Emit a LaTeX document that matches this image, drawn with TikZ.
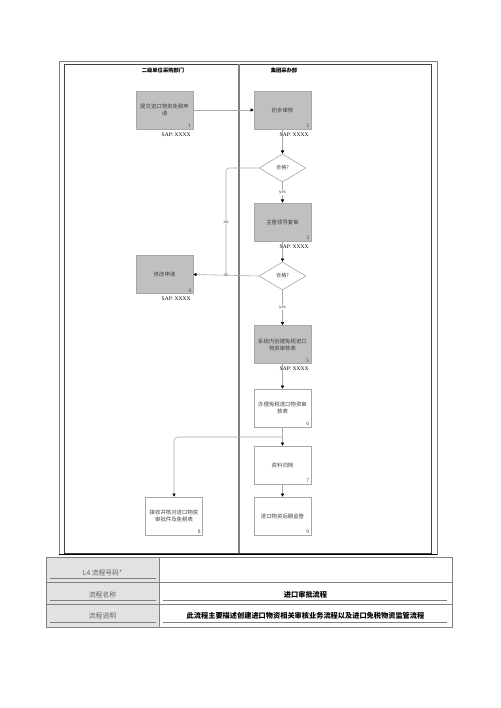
\documentclass[tikz,border=0pt]{standalone}
\usepackage{fontspec}
\setmainfont{Liberation Serif}
\newfontfamily\cjk{Noto Sans CJK SC}
\usetikzlibrary{arrows.meta,shapes.geometric}
\definecolor{boxfill}{HTML}{C0C0C0}
\definecolor{boxline}{HTML}{A6A6A6}
\definecolor{connc}{HTML}{A8A8A8}
\definecolor{darktext}{HTML}{404040}
\definecolor{framegray}{HTML}{808080}
\definecolor{cellfill}{HTML}{E2E2E2}
\definecolor{celltext}{HTML}{606060}
\begin{document}
\begin{tikzpicture}[x=1pt,y=-1pt,
  graybox/.style={draw=boxline,fill=boxfill,line width=0.6pt,minimum width=57pt,minimum height=38pt,inner sep=0pt,align=center,font=\cjk\fontsize{5.4}{7}\selectfont,text=darktext},
  whitebox/.style={graybox,fill=white},
  decision/.style={diamond,draw=boxline,fill=white,line width=0.6pt,minimum width=47pt,minimum height=28pt,inner sep=0pt,aspect=1.68,font=\cjk\fontsize{5.2}{6}\selectfont,text=darktext},
  numlbl/.style={inner sep=0.5pt,font=\fontsize{5.5}{6}\selectfont,text=darktext},
  saplbl/.style={inner sep=0.5pt,font=\fontsize{5.5}{6}\selectfont,text=black},
  hdr/.style={inner sep=0pt,font=\cjk\bfseries\fontsize{5.3}{6}\selectfont},
  conn/.style={draw=connc,line width=0.6pt,-{Triangle[length=3.2pt,width=3.2pt,fill=black,color=black]}},
  plainconn/.style={draw=connc,line width=0.6pt},
  lbl/.style={fill=white,inner sep=0.6pt,font=\fontsize{5}{6}\selectfont,text=darktext},
  celltxt/.style={inner sep=0pt,anchor=base,font=\cjk\fontsize{6.8}{8}\selectfont,text=celltext},
  cellbold/.style={inner sep=0pt,anchor=base,font=\cjk\bfseries\fontsize{7.2}{8}\selectfont,text=black},
  uline/.style={draw=framegray,line width=0.7pt},
  grid/.style={draw=framegray,line width=0.9pt}
]
\useasboundingbox (0,0) rectangle (500,708);

% frame
\draw[framegray,line width=0.9pt] (59,61) rectangle (437,554);
\draw[darktext,line width=0.7pt] (64,64) rectangle (431,553);
\draw[black,line width=1pt] (59,554) -- (437,554);
\draw[framegray,line width=1.3pt] (239,64) -- (239,553);

% headers
\node[hdr] (h1) at (163,70) {二级单位采购部门};
\node[hdr] (h2) at (284,70) {集团采办部};

% boxes
\node[graybox] (b1) at (164.5,110) {提交进口物资免税申\\请};
\node[graybox] (b2) at (282.5,110) {初步审核};
\node[decision] (d1) at (282.5,168) {合格?};
\node[graybox] (b3) at (282.5,222) {主管领导复审};
\node[graybox] (b4) at (164.5,274.5) {修改申请};
\node[decision] (d2) at (282.5,276) {合格?};
\node[graybox] (b5) at (282.5,344.5) {系统内创建免税进口\\物资审核表};
\node[whitebox] (b6) at (282.5,408) {办理免税进口物资审\\核表};
\node[whitebox] (b7) at (282.5,465) {资料归档};
\node[whitebox] (b8) at (174,516) {接收并核对进口物资\\审批件及免税表};
\node[whitebox] (b9) at (282.5,516) {进口物资后期监管};

% numbers
\foreach \b/\n in {b1/1,b2/2,b3/3,b4/4,b5/5,b6/6,b7/7,b8/8,b9/9}{
  \node[numlbl,anchor=south east] (n\n) at ([xshift=-1.5pt,yshift=1pt]\b.south east) {\n};
}
% SAP labels
\foreach \b/\n in {b1/1,b2/2,b3/3,b4/4,b5/5}{
  \node[saplbl,anchor=north east] (s\n) at ([xshift=-2pt,yshift=-2.5pt]\b.south east) {SAP: XXXX};
}

% connectors
\draw[conn] (b1.east) -- (b2.west);
\draw[conn] (b2.south) -- (d1.north);
\draw[conn] (d1.south) -- node[lbl] (y1) {yes} (b3.north);
\draw[conn] (b3.south) -- (d2.north);
\draw[conn] (d2.south) -- node[lbl] (y2) {yes} (b5.north);
\draw[conn] (d2.west) -- node[lbl] (no2) {no} (b4.east);
\coordinate (j1) at (226,276);
\draw[plainconn,rounded corners=3pt] (d1.west) -| node[lbl,pos=0.75] (no1) {no} (j1);
\draw[conn] (b5.south) -- (b6.north);
\draw[conn] (b6.south) -- (b7.north);
\coordinate (br) at (282.5,437);
\draw[conn,rounded corners=4pt] (br) -| (b8.north);
\draw[conn] (b7.south) -- (b9.north);

% table
\fill[cellfill] (46,557) rectangle (159,627);
\draw[grid] (46,557) rectangle (452,627);
\draw[grid] (46,582) -- (452,582);
\draw[grid] (46,604) -- (452,604);
\draw[grid] (159,557) -- (159,627);
\draw[uline] (50,578.5) -- (156,578.5);
\draw[uline] (50,600.5) -- (156,600.5);
\draw[uline] (50,622) -- (156,622);
\draw[uline] (163,600.5) -- (447,600.5);
\draw[uline] (163,622) -- (447,622);
\node[celltxt] (t1) at (102.5,575) {L4 流程号码*};
\node[celltxt] (t2) at (102.5,597) {流程名称};
\node[celltxt] (t3) at (102.5,618.5) {流程说明};
\node[cellbold] (v2) at (305.5,597) {进口审批流程};
\node[cellbold] (v3) at (305.5,618.5) {此流程主要描述创建进口物资相关审核业务流程以及进口免税物资监管流程};
\end{tikzpicture}
\end{document}
